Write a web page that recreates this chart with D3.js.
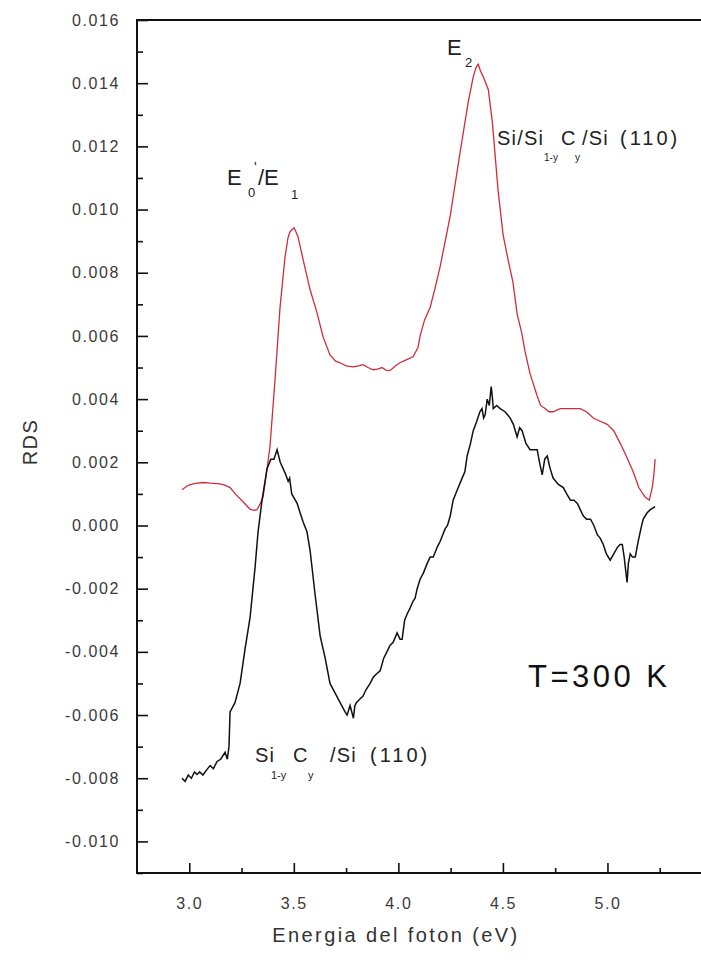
<!DOCTYPE html>
<html>
<head>
<meta charset="utf-8">
<script src="https://cdn.jsdelivr.net/npm/d3@7"></script>
<style>
  body { margin: 0; background: #fff; }
  svg { display: block; font-family: "Liberation Sans", Arial, sans-serif; }
</style>
</head>
<body>
<script>
// photon energy (eV) and RDS signal
var redEnergy = [2.965, 2.99, 3.004, 3.03, 3.066, 3.1, 3.147, 3.17, 3.195, 3.22, 3.257, 3.29, 3.31, 3.324, 3.34, 3.353, 3.37, 3.386, 3.41, 3.434, 3.458, 3.472, 3.482, 3.501, 3.51, 3.52, 3.545, 3.578, 3.611, 3.64, 3.673, 3.7, 3.721, 3.75, 3.783, 3.81, 3.831, 3.855, 3.879, 3.9, 3.922, 3.94, 3.96, 3.985, 4.008, 4.04, 4.07, 4.094, 4.104, 4.125, 4.152, 4.175, 4.2, 4.248, 4.295, 4.334, 4.358, 4.372, 4.382, 4.392, 4.406, 4.43, 4.449, 4.477, 4.501, 4.525, 4.548, 4.568, 4.59, 4.606, 4.63, 4.664, 4.68, 4.702, 4.72, 4.74, 4.774, 4.82, 4.87, 4.9, 4.932, 4.965, 4.999, 5.03, 5.061, 5.09, 5.123, 5.15, 5.18, 5.2, 5.214, 5.222, 5.228];
var redRDS = [0.00113, 0.00125, 0.00129, 0.00133, 0.00136, 0.00134, 0.00132, 0.00128, 0.0012, 0.001, 0.00075, 0.00052, 0.00048, 0.0005, 0.0007, 0.00091, 0.0017, 0.0025, 0.0046, 0.0069, 0.0085, 0.0091, 0.0093, 0.00942, 0.0093, 0.00914, 0.0084, 0.00746, 0.00673, 0.00597, 0.0054, 0.0052, 0.00515, 0.00505, 0.00502, 0.00505, 0.00509, 0.005, 0.00493, 0.00495, 0.005, 0.00492, 0.0049, 0.00505, 0.00515, 0.00525, 0.00534, 0.00563, 0.006, 0.0065, 0.0069, 0.0075, 0.0082, 0.0098, 0.0118, 0.0134, 0.0142, 0.0145, 0.0146, 0.0144, 0.0142, 0.0138, 0.0128, 0.0106, 0.0092, 0.0084, 0.0077, 0.0067, 0.0061, 0.0055, 0.0048, 0.0041, 0.0038, 0.0037, 0.0036, 0.0036, 0.0037, 0.0037, 0.0037, 0.0036, 0.0034, 0.0033, 0.0032, 0.003, 0.0026, 0.0022, 0.0017, 0.0012, 0.0009, 0.0008, 0.0012, 0.0016, 0.0021];

var blackEnergy = [2.965, 2.98, 2.995, 3.01, 3.025, 3.037, 3.05, 3.065, 3.085, 3.1, 3.115, 3.133, 3.15, 3.171, 3.182, 3.19, 3.195, 3.219, 3.243, 3.267, 3.291, 3.315, 3.329, 3.348, 3.372, 3.39, 3.405, 3.42, 3.435, 3.449, 3.462, 3.473, 3.48, 3.49, 3.516, 3.53, 3.545, 3.563, 3.578, 3.602, 3.626, 3.65, 3.673, 3.697, 3.721, 3.745, 3.755, 3.769, 3.777, 3.785, 3.792, 3.8, 3.815, 3.831, 3.845, 3.865, 3.88, 3.895, 3.913, 3.93, 3.945, 3.96, 3.975, 3.994, 4.008, 4.018, 4.03, 4.042, 4.057, 4.07, 4.08, 4.09, 4.104, 4.12, 4.138, 4.152, 4.167, 4.185, 4.2, 4.224, 4.235, 4.248, 4.262, 4.28, 4.305, 4.318, 4.329, 4.345, 4.358, 4.375, 4.39, 4.4, 4.408, 4.415, 4.425, 4.435, 4.444, 4.449, 4.454, 4.47, 4.487, 4.51, 4.535, 4.55, 4.568, 4.58, 4.592, 4.61, 4.63, 4.648, 4.664, 4.675, 4.688, 4.7, 4.712, 4.726, 4.74, 4.765, 4.789, 4.805, 4.823, 4.84, 4.856, 4.87, 4.885, 4.9, 4.919, 4.935, 4.952, 4.965, 4.98, 4.995, 5.013, 5.03, 5.047, 5.06, 5.071, 5.08, 5.085, 5.094, 5.1, 5.109, 5.12, 5.133, 5.147, 5.16, 5.171, 5.19, 5.205, 5.228];
var blackRDS = [-0.008, -0.0081, -0.0079, -0.008, -0.0078, -0.00788, -0.0078, -0.0079, -0.00772, -0.0076, -0.0077, -0.00747, -0.0074, -0.00718, -0.0074, -0.007, -0.0059, -0.0056, -0.005, -0.0039, -0.0029, -0.0013, -0.0002, 0.0008, 0.0018, 0.0021, 0.0021, 0.0024, 0.002, 0.0018, 0.0016, 0.0014, 0.0015, 0.001, 0.0007, 0.0004, 0.0001, -0.0002, -0.0008, -0.0022, -0.0035, -0.0042, -0.005, -0.0053, -0.0056, -0.0059, -0.006, -0.0057, -0.0059, -0.0061, -0.0057, -0.0056, -0.0055, -0.0054, -0.0052, -0.005, -0.0048, -0.0047, -0.0046, -0.0042, -0.004, -0.0038, -0.0037, -0.0034, -0.0036, -0.0036, -0.003, -0.0028, -0.0026, -0.0024, -0.0023, -0.002, -0.0017, -0.0015, -0.0012, -0.001, -0.001, -0.0007, -0.0005, -0.0001, 0, 0.0003, 0.0008, 0.0011, 0.0015, 0.0017, 0.0022, 0.0026, 0.003, 0.0033, 0.0036, 0.0037, 0.0034, 0.0035, 0.004, 0.0038, 0.0044, 0.0041, 0.0037, 0.0038, 0.0037, 0.0036, 0.0034, 0.0032, 0.0028, 0.0031, 0.003, 0.0026, 0.0024, 0.0024, 0.0024, 0.002, 0.0016, 0.0021, 0.0022, 0.0018, 0.0015, 0.0013, 0.0012, 0.001, 0.0008, 0.0008, 0.0007, 0.0005, 0.0003, 0.0002, 0.0002, 0, -0.0003, -0.0004, -0.0006, -0.0009, -0.0011, -0.0009, -0.0007, -0.0006, -0.0006, -0.001, -0.0013, -0.0018, -0.0012, -0.0009, -0.001, -0.001, -0.0005, -0.0001, 0.0002, 0.0004, 0.0005, 0.0006];

var xMajor = [3.0, 3.5, 4.0, 4.5, 5.0];
var xMinor = [3.25, 3.75, 4.25, 4.75, 5.25];
var yMajor = [-0.010, -0.008, -0.006, -0.004, -0.002, 0.000, 0.002, 0.004, 0.006, 0.008, 0.010, 0.012, 0.014, 0.016];
var yMinor = [-0.011, -0.009, -0.007, -0.005, -0.003, -0.001, 0.001, 0.003, 0.005, 0.007, 0.009, 0.011, 0.013, 0.015];

(function () {

	var w = 701,
		h = 965,
		plotLeft = 137,
		plotTop = 20,
		plotRight = 712,
		plotBottom = 873;

	var svg = d3.select("body")
		.append("svg")
		.attr("width", w)
		.attr("height", h);

	var x = d3.scaleLinear().domain([2.75, 5.5]).range([plotLeft, plotRight]);
	var y = d3.scaleLinear().domain([-0.011, 0.016]).range([plotBottom, plotTop]);

	// plain hyphen for negatives, like the original
	var yFmt = function (d) { return d3.format(".3f")(d).replace("\u2212", "-"); };

	// ticks point inward, labels a bit letter-spaced like the scan
	svg.append("g")
		.attr("transform", "translate(" + plotLeft + ",0)")
		.call(d3.axisLeft(y).tickValues(yMajor).tickSizeInner(-11).tickSizeOuter(0).tickPadding(17)
			.tickFormat(yFmt));
	svg.append("g")
		.attr("transform", "translate(" + plotLeft + ",0)")
		.call(d3.axisLeft(y).tickValues(yMinor).tickSizeInner(-6).tickSizeOuter(0).tickFormat(""));

	svg.append("g")
		.attr("transform", "translate(0," + plotBottom + ")")
		.call(d3.axisBottom(x).tickValues(xMajor).tickSizeInner(-10).tickSizeOuter(0).tickPadding(25)
			.tickFormat(d3.format(".1f")));
	svg.append("g")
		.attr("transform", "translate(0," + plotBottom + ")")
		.call(d3.axisBottom(x).tickValues(xMinor).tickSizeInner(-5).tickSizeOuter(0).tickFormat(""));

	svg.selectAll(".domain").remove();
	svg.selectAll(".tick line").attr("stroke", "#111").attr("stroke-width", 1.6);
	svg.selectAll(".tick text")
		.attr("fill", "#3a3a3a")
		.style("font-family", "'Liberation Sans', Arial, sans-serif")
		.style("font-size", "16px")
		.style("letter-spacing", "1.6px");

	// frame (right side runs off the page)
	svg.append("rect")
		.attr("x", plotLeft)
		.attr("y", plotTop)
		.attr("width", plotRight - plotLeft)
		.attr("height", plotBottom - plotTop)
		.attr("fill", "none")
		.attr("stroke", "#111")
		.attr("stroke-width", 2);

	var line = d3.line()
		.x(function (d) { return x(d[0]); })
		.y(function (d) { return y(d[1]); });

	svg.append("path")
		.datum(redEnergy.map(function (e, i) { return [e, redRDS[i]]; }))
		.attr("d", line)
		.attr("fill", "none")
		.attr("stroke", "#cf2c3c")
		.attr("stroke-width", 1.3);

	svg.append("path")
		.datum(blackEnergy.map(function (e, i) { return [e, blackRDS[i]]; }))
		.attr("d", line)
		.attr("fill", "none")
		.attr("stroke", "#111")
		.attr("stroke-width", 1.5);

	// axis titles
	svg.append("text")
		.attr("x", 396)
		.attr("y", 942)
		.attr("text-anchor", "middle")
		.attr("fill", "#333")
		.style("font-size", "20px")
		.style("letter-spacing", "2.4px")
		.text("Energia del foton (eV)");

	svg.append("text")
		.attr("transform", "translate(37,442) rotate(-90)")
		.attr("text-anchor", "middle")
		.attr("fill", "#333")
		.style("font-size", "20px")
		.style("letter-spacing", "1.5px")
		.text("RDS");

	// annotations: pieces of text with sub/superscripts
	function label(parts) {
		var t = svg.append("text").attr("fill", "#222");
		parts.forEach(function (p) {
			t.append("tspan")
				.attr("x", p[1])
				.attr("y", p[2])
				.style("font-size", p[3] + "px")
				.style("letter-spacing", (p[4] || 0) + "px")
				.text(p[0]);
		});
	}

	label([["E", 227, 185, 22], ["0", 248, 197, 13], ["'", 254, 172, 14], ["/E", 258, 185, 22], ["1", 291, 199, 13]]);
	label([["E", 447, 55, 22], ["2", 465, 67, 13]]);
	label([["Si/Si", 497, 145, 20, 1.2], ["1-y", 544, 161, 10], ["C", 561, 145, 20], ["y", 575, 161, 10],
		["/Si", 582, 145, 20, 1.2], ["(110)", 620, 145, 20, 3]]);
	label([["Si", 255, 762, 20, 1.2], ["1-y", 271, 779, 11], ["C", 293, 762, 20], ["y", 308, 779, 11],
		["/Si", 330, 762, 20, 1.2], ["(110)", 370, 762, 20, 3]]);

	svg.append("text")
		.attr("x", 528)
		.attr("y", 687)
		.attr("fill", "#111")
		.style("font-size", "31px")
		.style("letter-spacing", "3.5px")
		.text("T=300 K");

}());
</script>
</body>
</html>
